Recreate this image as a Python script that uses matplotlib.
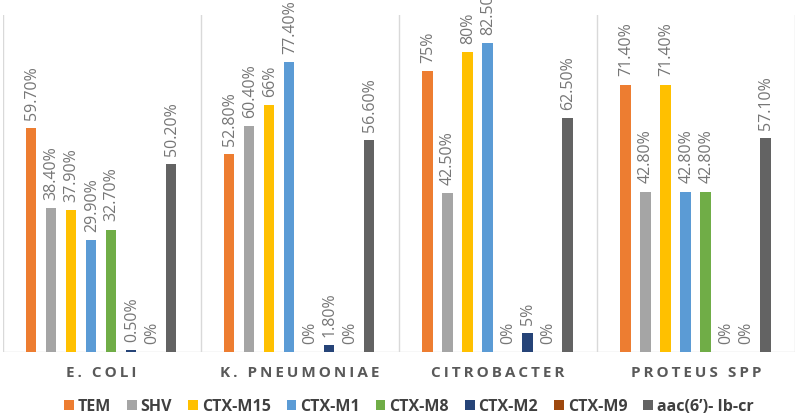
import matplotlib
matplotlib.use("Agg")
import matplotlib.pyplot as plt
from matplotlib.patches import Patch

# data
groups = ["E. COLI", "K. PNEUMONIAE", "CITROBACTER", "PROTEUS SPP"]
genes = ["TEM", "SHV", "CTX-M15", "CTX-M1", "CTX-M8", "CTX-M2", "CTX-M9", "aac(6\u2019)- Ib-cr"]
colors = ["#ED7D31", "#A5A5A5", "#FFC000", "#5B9BD5", "#70AD47", "#264478", "#9E480E", "#636363"]

# values per gene, one per group
tem = [59.7, 52.8, 75, 71.4]
shv = [38.4, 60.4, 42.5, 42.8]
ctx_m15 = [37.9, 66, 80, 71.4]
ctx_m1 = [29.9, 77.4, 82.5, 42.8]
ctx_m8 = [32.7, 0, 0, 42.8]
ctx_m2 = [0.5, 1.8, 5, 0]
ctx_m9 = [0, 0, 0, 0]
aac = [50.2, 56.6, 62.5, 57.1]

# data labels as printed on the chart
tem_lbl = ["59.70%", "52.80%", "75%", "71.40%"]
shv_lbl = ["38.40%", "60.40%", "42.50%", "42.80%"]
m15_lbl = ["37.90%", "66%", "80%", "71.40%"]
m1_lbl = ["29.90%", "77.40%", "82.50%", "42.80%"]
m8_lbl = ["32.70%", "0%", "0%", "42.80%"]
m2_lbl = ["0.50%", "1.80%", "5%", "0%"]
m9_lbl = ["0%", "0%", "0%", "0%"]
aac_lbl = ["50.20%", "56.60%", "62.50%", "57.10%"]

series = [tem, shv, ctx_m15, ctx_m1, ctx_m8, ctx_m2, ctx_m9, aac]
labels = [tem_lbl, shv_lbl, m15_lbl, m1_lbl, m8_lbl, m2_lbl, m9_lbl, aac_lbl]

plt.rcParams['font.family'] = ['Open Sans', 'DejaVu Sans']

fig = plt.figure(figsize=(7.97, 4.16), dpi=100)
ax = fig.add_axes([2.5 / 797, 1 - 352 / 416, (795 - 2.5) / 797, 337 / 416])

first = 0.144
step = 0.101
width = 0.053
lab_color = "#767676"

for j, (vals, lbls) in enumerate(zip(series, labels)):
    for i in range(len(groups)):
        x = i + first + j * step
        v = vals[i]
        if v > 0:
            ax.bar(x, v / 100, width=width, color=colors[j], zorder=2)
        ax.annotate(lbls[i], (x, v / 100), xytext=(0.5, 6), textcoords="offset points",
                    rotation=90, ha="center", va="bottom", fontsize=11.5,
                    color=lab_color, annotation_clip=False)

for k in range(len(groups) + 1):
    ax.axvline(k, color="#D9D9D9", lw=1, zorder=1)
ax.axhline(0, color="#D9D9D9", lw=1, zorder=1)

ax.set_xlim(0, len(groups))
ax.set_ylim(0, 0.9)
ax.set_xticks([])
ax.set_yticks([])
for s in ax.spines.values():
    s.set_visible(False)

for i, g in enumerate(groups):
    ax.text(i + 0.5, -0.062, "\u2009".join(g), transform=ax.get_xaxis_transform(),
            ha="center", va="center", fontsize=11, fontweight="bold", color="#595959")

handles = [Patch(facecolor=c, edgecolor="none") for c in colors]
fig.legend(handles, genes, loc="center", bbox_to_anchor=(0.513, 0.022), ncol=8,
           frameon=False, handlelength=0.6, handleheight=0.6,
           handletextpad=0.25, columnspacing=1.0, labelcolor="#404040",
           borderaxespad=0, prop={"weight": "bold", "size": 11.5})

fig.savefig("out.png", dpi=100)
